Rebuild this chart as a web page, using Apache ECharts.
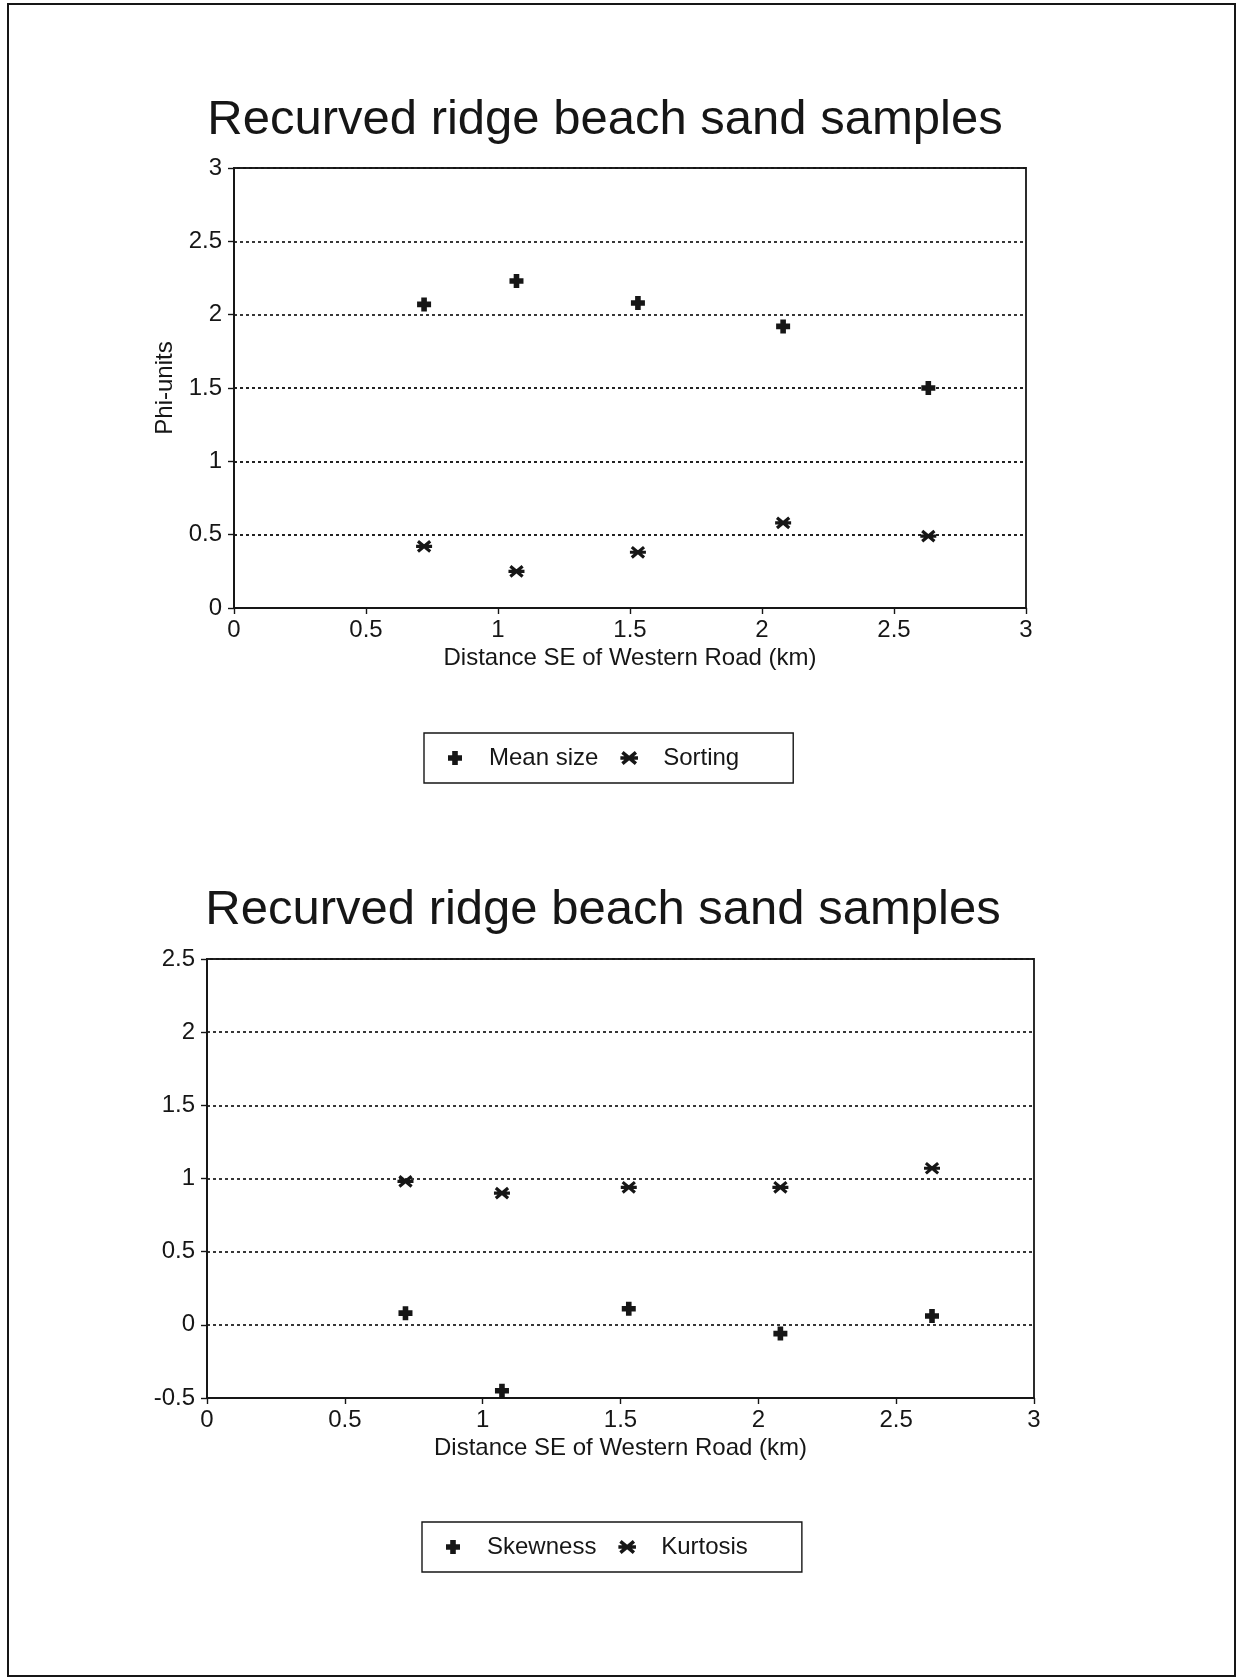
<!DOCTYPE html>
<html>
<head>
<meta charset="utf-8">
<style>
  html, body { margin: 0; padding: 0; background: #ffffff; }
  #chart { width: 1243px; height: 1679px; }
</style>
<script src="https://cdn.jsdelivr.net/npm/echarts@6/dist/echarts.min.js"></script>
</head>
<body>
<div id="chart"></div>
<script>
// ---- data ----
const titleText = 'Recurved ridge beach sand samples';
const xAxisName = 'Distance SE of Western Road (km)';
const yAxisName = 'Phi-units';
const distance = [0.72, 1.07, 1.53, 2.08, 2.63];
const meanSize = [2.07, 2.23, 2.08, 1.92, 1.50];
const sorting  = [0.42, 0.25, 0.38, 0.58, 0.49];
const skewness = [0.08, -0.45, 0.11, -0.06, 0.06];
const kurtosis = [0.98, 0.90, 0.94, 0.94, 1.07];
const xTicks = [0, 0.5, 1, 1.5, 2, 2.5, 3];
const yTicksTop = [0, 0.5, 1, 1.5, 2, 2.5, 3];
const yTicksBottom = [-0.5, 0, 0.5, 1, 1.5, 2, 2.5];

// ---- styling ----
const FONT = 'Liberation Sans, Arial, Helvetica, sans-serif';
const INK = '#161616';
const PLUS = 'path://M-2.6,-6.5H2.6V-2.6H6.5V2.6H2.6V6.5H-2.6V2.6H-6.5V-2.6H-2.6Z';
const ASTER = 'path://M-7.5,-1.5L7.5,-1.5L7.5,1.5L-7.5,1.5Z' +
              'M4.78,5.97L-6.71,-3.67L-4.78,-5.97L6.71,3.67Z' +
              'M4.78,-5.97L6.71,-3.67L-4.78,5.97L-6.71,3.67Z';

function pairs(xs, ys) { return xs.map((x, i) => [x, ys[i]]); }

function xAxisOpt(gridIndex) {
  return {
    type: 'value', gridIndex: gridIndex,
    min: xTicks[0], max: xTicks[xTicks.length - 1], interval: xTicks[1] - xTicks[0],
    name: xAxisName, nameLocation: 'middle', nameGap: 38,
    nameTextStyle: { fontFamily: FONT, fontSize: 24, color: INK },
    axisLine: { show: true, onZero: false, lineStyle: { color: INK, width: 1.8 } },
    axisTick: { show: true, length: 6, lineStyle: { color: INK, width: 1.4 } },
    axisLabel: { margin: 10, fontFamily: FONT, fontSize: 24, color: INK },
    splitLine: { show: false }
  };
}
function yAxisOpt(gridIndex, ticks, name) {
  return {
    type: 'value', gridIndex: gridIndex,
    min: ticks[0], max: ticks[ticks.length - 1], interval: ticks[1] - ticks[0],
    name: name, nameLocation: 'middle', nameGap: 57,
    nameTextStyle: { fontFamily: FONT, fontSize: 24, color: INK },
    axisLine: { show: true, onZero: false, lineStyle: { color: INK, width: 1.8 } },
    axisTick: { show: true, length: 6, lineStyle: { color: INK, width: 1.4 } },
    axisLabel: { margin: 12, fontFamily: FONT, fontSize: 24, color: INK },
    splitLine: { show: true, lineStyle: { color: '#222', width: 1.8, type: [3, 3] } }
  };
}
function scatter(name, xi, yi, data, symbol, size) {
  return {
    type: 'scatter', name: name, xAxisIndex: xi, yAxisIndex: yi,
    data: data, symbol: symbol, symbolSize: size, symbolKeepAspect: true,
    itemStyle: { color: INK, opacity: 1 }, emphasis: { disabled: true }, z: 5
  };
}
function legendOpt(names, left, top) {
  return {
    data: names, left: left, top: top, orient: 'horizontal',
    itemWidth: 58, itemHeight: 14, itemGap: 22,
    padding: [13, 54, 13, 24],
    borderColor: INK, borderWidth: 1.4, backgroundColor: '#fff',
    textStyle: { fontFamily: FONT, fontSize: 24, color: INK },
    selectedMode: false
  };
}

const chart = echarts.init(document.getElementById('chart'), null, { renderer: 'canvas' });
chart.setOption({
  backgroundColor: '#ffffff',
  animation: false,
  textStyle: { fontFamily: FONT },
  title: [
    { text: titleText, left: 600, top: 91, textAlign: 'center',
      textStyle: { fontFamily: FONT, fontSize: 49, fontWeight: 'normal', color: INK } },
    { text: titleText, left: 598, top: 881, textAlign: 'center',
      textStyle: { fontFamily: FONT, fontSize: 49, fontWeight: 'normal', color: INK } }
  ],
  graphic: [
    { type: 'rect', shape: { x: 8, y: 4, width: 1227, height: 1672 },
      style: { fill: 'none', stroke: INK, lineWidth: 2 }, silent: true, z: -1 }
  ],
  grid: [
    { left: 234, top: 168, width: 792, height: 440, show: true,
      borderColor: INK, borderWidth: 1.8, backgroundColor: 'transparent' },
    { left: 207, top: 959, width: 827, height: 439, show: true,
      borderColor: INK, borderWidth: 1.8, backgroundColor: 'transparent' }
  ],
  xAxis: [ xAxisOpt(0), xAxisOpt(1) ],
  yAxis: [ yAxisOpt(0, yTicksTop, yAxisName), yAxisOpt(1, yTicksBottom, '') ],
  legend: [
    legendOpt(['Mean size', 'Sorting'], 424, 733),
    legendOpt(['Skewness', 'Kurtosis'], 422, 1522)
  ],
  series: [
    scatter('Mean size', 0, 0, pairs(distance, meanSize), PLUS, 14),
    scatter('Sorting', 0, 0, pairs(distance, sorting), ASTER, 16),
    scatter('Skewness', 1, 1, pairs(distance, skewness), PLUS, 14),
    scatter('Kurtosis', 1, 1, pairs(distance, kurtosis), ASTER, 16)
  ]
});
</script>
</body>
</html>
